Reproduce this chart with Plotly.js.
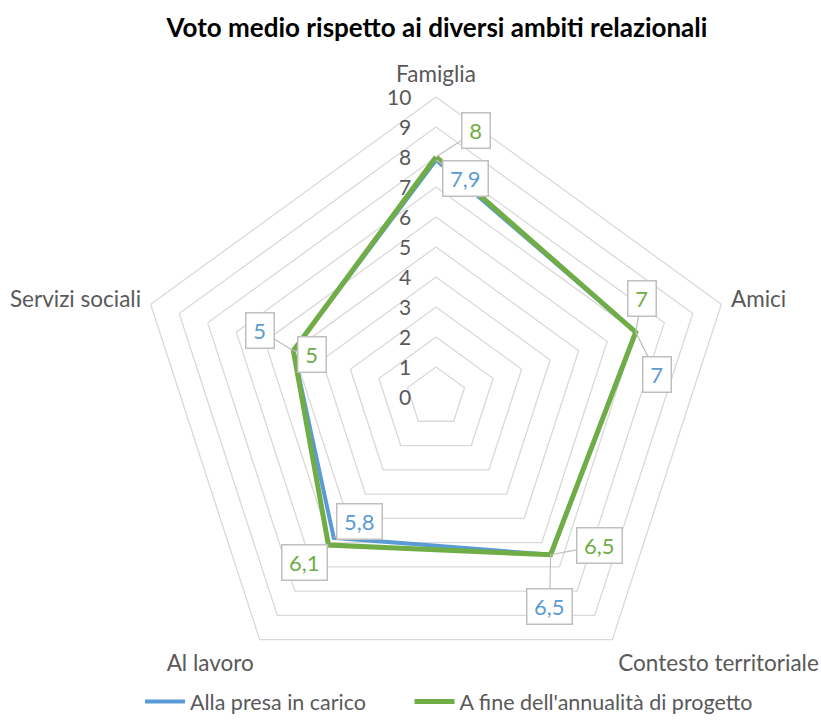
<!DOCTYPE html>
<html>
<head>
<meta charset="utf-8">
<script src="https://cdn.plot.ly/plotly-3.0.1.min.js"></script>
<style>html,body{margin:0;padding:0;background:#fff;}#chart{width:821px;height:722px;}</style>
</head>
<body>
<div id="chart"></div>
<script>
// ---- data ----
var categories = ["Famiglia", "Amici", "Contesto territoriale", "Al lavoro", "Servizi sociali"];
var seriesNames = ["Alla presa in carico", "A fine dell'annualità di progetto"];
var valuesStart = [7.9, 7, 6.5, 5.8, 5];
var valuesEnd = [8, 7, 6.5, 6.1, 5];
var labelsStart = ["7,9", "7", "6,5", "5,8", "5"];
var labelsEnd = ["8", "7", "6,5", "6,1", "5"];
var radialTicks = [0,1,2,3,4,5,6,7,8,9,10];

// ---- styling / label offsets (pixels) ----
var colStart = "#5B9BD5", colEnd = "#70AD47";
var offStart = [[29,19],[21,42],[-1,52],[26,-16],[-33,-20]];
var offEnd = [[40,-26],[6,-34],[49,-9],[-24,17],[19,4]];
var FONT = "Lato, 'Open Sans', sans-serif";
var legendGap = "\u00A0\u00A0\u00A0\u00A0\u00A0\u00A0\u00A0";

var dom = {x:[136/821, 736/821], y:[1-697/722, 1-97/722]};

function closed(a){ return a.concat([a[0]]); }

var traces = [
  {type:'scatterpolar', r: closed(valuesStart), theta: closed(categories), mode:'lines',
   name: seriesNames[0] + legendGap, line:{color:colStart, width:4}, hoverinfo:'skip'},
  {type:'scatterpolar', r: closed(valuesEnd), theta: closed(categories), mode:'lines',
   name: seriesNames[1], line:{color:colEnd, width:5}, hoverinfo:'skip'},
  {type:'scatter', x:[], y:[], xaxis:'x', yaxis:'y', showlegend:false, hoverinfo:'skip'}
];

var annotations = [];
function addLabels(vals, labs, offs, col){
  for (var i=0;i<vals.length;i++){
    var ang = i*2*Math.PI/categories.length; // clockwise from top (library axis convention)
    annotations.push({
      xref:'x', yref:'y', x: vals[i]*Math.sin(ang), y: vals[i]*Math.cos(ang),
      text: labs[i], showarrow:true, arrowhead:0, arrowwidth:1.2, arrowcolor:'#BFBFBF',
      ax: offs[i][0], ay: offs[i][1],
      width: 18 + 8.5*labs[i].length, height: 34,
      font:{family:FONT, size:22, color:col},
      bgcolor:'#FFFFFF', bordercolor:'#BFBFBF', borderwidth:1.5, borderpad:0
    });
  }
}
addLabels(valuesStart, labelsStart, offStart, colStart);
addLabels(valuesEnd, labelsEnd, offEnd, colEnd);

// radial tick labels, placed on the radial scale (left of the vertical axis)
radialTicks.forEach(function(t){
  annotations.push({xref:'x', yref:'y', x:0, y:t, text:String(t), showarrow:false,
    xanchor:'right', yanchor:'middle', xshift:-23,
    font:{family:FONT, size:21, color:'#595959'}});
});

var layout = {
  width:821, height:722,
  margin:{l:0,r:0,t:0,b:0},
  paper_bgcolor:'#fff',
  font:{family:FONT, color:'#595959'},
  title:{text:'Voto medio rispetto ai diversi ambiti relazionali', x:437/821, xanchor:'center',
         y:1-28/722, yanchor:'middle', yref:'paper', font:{family:FONT, size:26, color:'#000', weight:'bold'}},
  polar:{
    domain: dom,
    bgcolor:'#fff',
    gridshape:'linear',
    angularaxis:{rotation:90, direction:'clockwise', showgrid:false, showline:true,
      linecolor:'#D9D9D9', linewidth:1.3, ticks:'outside', ticklen:5, tickcolor:'rgba(0,0,0,0)',
      tickfont:{family:FONT, size:22.5, color:'#595959'}},
    radialaxis:{range:[0,10], tickvals:radialTicks, angle:90, showticklabels:false,
      showline:false, ticks:'', gridcolor:'#D9D9D9', gridwidth:1.3}
  },
  xaxis:{domain:dom.x, range:[-10,10], visible:false, fixedrange:true},
  yaxis:{domain:dom.y, range:[-10,10], visible:false, fixedrange:true},
  showlegend:true,
  legend:{orientation:'h', x:449/821, xanchor:'center', y:0, yanchor:'bottom',
    font:{family:FONT, size:21.5, color:'#595959'}, itemwidth:40, tracegroupgap:0},
  annotations: annotations
};

Plotly.newPlot('chart', traces, layout, {displayModeBar:false, staticPlot:true});
</script>
</body>
</html>
